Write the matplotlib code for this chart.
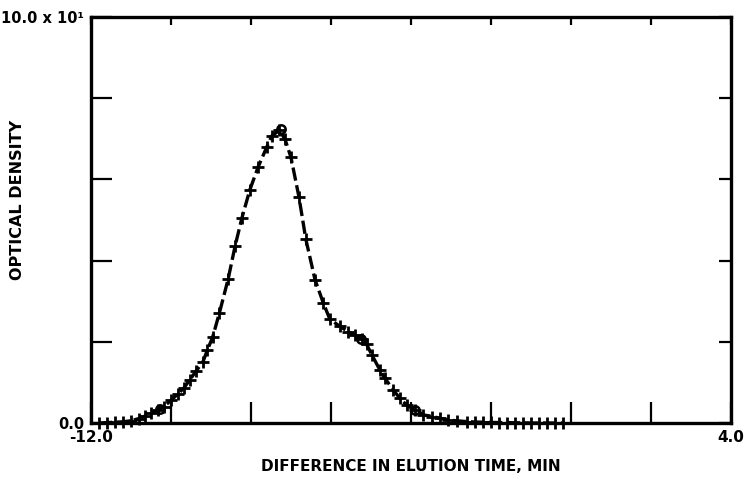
import numpy as np
import matplotlib
matplotlib.use("Agg")
import matplotlib.pyplot as plt

# Elution profile (time difference in min, optical density)
time_diff = [-11.8, -11.6, -11.4, -11.2, -11.0, -10.8, -10.65, -10.5, -10.33, -10.18,
             -10.0, -9.82, -9.68, -9.53, -9.38, -9.2, -9.09, -8.96, -8.79, -8.57,
             -8.4, -8.23, -8.03, -7.82, -7.6, -7.48, -7.29, -7.15, -7.0, -6.8,
             -6.63, -6.4, -6.19, -6.03, -5.78, -5.57, -5.4, -5.23, -5.11, -4.98,
             -4.78, -4.65, -4.44, -4.28, -4.11, -3.9, -3.69, -3.48, -3.28, -3.07,
             -2.86, -2.61, -2.4, -2.2, -2.0, -1.8, -1.6, -1.4, -1.2, -1.0,
             -0.8, -0.6, -0.4, -0.2]
density = [0.0, 0.1, 0.2, 0.3, 0.55, 1.1, 1.7, 2.4, 3.2, 4.0,
           5.6, 7.2, 8.6, 10.6, 12.7, 15.1, 18.0, 21.1, 27.1, 35.5,
           43.5, 50.4, 57.4, 63.1, 68.1, 70.7, 72.1, 69.9, 65.4, 55.6,
           45.3, 35.3, 29.5, 25.6, 23.8, 22.5, 21.6, 20.6, 19.4, 16.8,
           13.1, 11.0, 8.1, 6.1, 4.4, 3.2, 2.0, 1.6, 1.2, 0.7,
           0.55, 0.35, 0.25, 0.2, 0.15, 0.1, 0.1, 0.05, 0.05, 0.0,
           0.0, 0.0, 0.0, 0.0]

# a few points drawn with open circles
circle_time = [-10.28, -7.25, -5.25, -3.9]
circle_density = [3.4, 72.3, 20.8, 3.2]

xticks = [-12, -10, -8, -6, -4, -2, 0, 2, 4]
xticklabels = ['-12.0', '', '', '', '', '', '', '', '4.0']
yticks = [0, 20, 40, 60, 80, 100]
yticklabels = ['0.0', '', '', '', '', '10.0 x 10\u00b9']

plt.rcParams['font.family'] = ['DejaVu Sans']
plt.rcParams['font.weight'] = 'bold'

fig = plt.figure(figsize=(7.49, 4.80), dpi=100)
ax = fig.add_axes([91/749, 1 - 423/480, 640/749, 406/480])

ax.plot(time_diff, density, color='black', lw=2.4, dashes=(4, 1.4),
        marker='+', ms=8.5, mew=2.0, clip_on=False, zorder=3)
ax.plot(circle_time, circle_density, ls='none', marker='o', ms=6,
        mfc='none', mec='black', mew=1.8, clip_on=False, zorder=4)

ax.set_xlim(-12, 4)
ax.set_ylim(0, 100)

ax.set_xticks(xticks)
ax.set_xticklabels(xticklabels, fontsize=11, fontweight='bold')
ax.set_yticks(yticks)
ax.set_yticklabels(yticklabels, fontsize=10.5, fontweight='bold')

ax.tick_params(direction='in', width=1.6, top=True, right=True, pad=5)
ax.tick_params(axis='x', length=15)
ax.tick_params(axis='y', length=15)

# different tick lengths on each side
for t in ax.xaxis.get_major_ticks():
    t.tick1line.set_markersize(15)
    t.tick2line.set_markersize(5.5)
for t in ax.yaxis.get_major_ticks():
    t.tick1line.set_markersize(15)
    t.tick2line.set_markersize(9)

for s in ax.spines.values():
    s.set_linewidth(2.4)

ax.set_xlabel('DIFFERENCE IN ELUTION TIME, MIN', fontsize=11, fontweight='bold',
              labelpad=10)
ax.set_ylabel('OPTICAL DENSITY', fontsize=11.5, fontweight='bold')
ax.yaxis.set_label_coords(-0.103, 0.55)

fig.savefig('out.png', dpi=100)
